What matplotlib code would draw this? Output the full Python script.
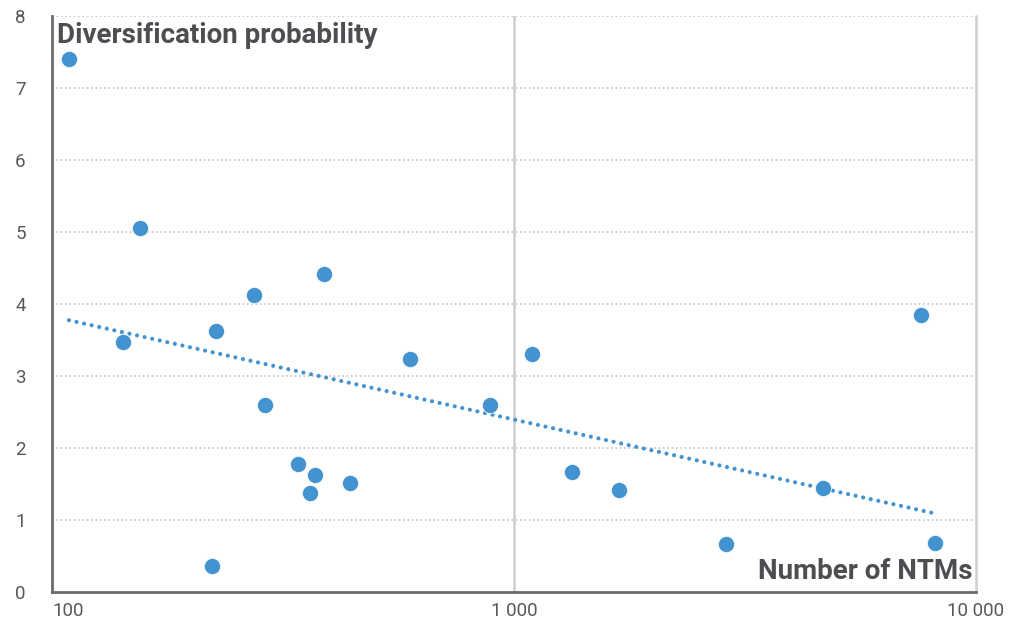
import numpy as np
import matplotlib
matplotlib.use("Agg")
import matplotlib.pyplot as plt
from matplotlib.ticker import FixedLocator, NullLocator

# number of NTMs vs. diversification probability
ntms = [108.8, 155.1, 142.3, 226.7, 222.5, 273.1, 288.4, 388.6, 340.1, 370.8, 361.7,
        441.7, 595.8, 888.0, 1093, 1334.6, 1684, 2873, 4668, 7601, 8165]
divers = [7.40, 5.06, 3.47, 3.62, 0.36, 4.12, 2.60, 4.41, 1.78, 1.62, 1.38,
          1.51, 3.23, 2.60, 3.30, 1.66, 1.41, 0.66, 1.44, 3.85, 0.68]

x_ticks = [100, 1000, 10000]
x_ticklabels = ["100", "1 000", "10 000"]
y_ticks = [0, 1, 2, 3, 4, 5, 6, 7, 8]

blue = "#4493d1"
dark = "#4d4e52"
tick_col = "#58585b"
fonts = ["Roboto", "DejaVu Sans"]

fig = plt.figure(figsize=(10.13, 6.25), dpi=100)
ax = fig.add_axes([52 / 1013, 1 - 592 / 625, (976 - 52) / 1013, (592 - 16) / 625])

ax.set_xscale("log")
ax.set_xlim(100, 10000)
ax.set_ylim(0, 8)

# log trendline (least squares on log x)
lx = np.log10(ntms)
slope, icpt = np.polyfit(lx, divers, 1)
xs = np.array([min(ntms), max(ntms)])
ax.plot(xs, slope * np.log10(xs) + icpt, color=blue, lw=3,
        linestyle=(0, (0.01, 1.85)), dash_capstyle="round", zorder=3)

ax.scatter(ntms, divers, s=135, color=blue, edgecolor="white", linewidth=0.5, zorder=4)

# grid
for y in y_ticks[1:]:
    ax.axhline(y, color="#c4c4c4", lw=1.2, linestyle=(0, (1, 1.6)), zorder=1)
ax.axvline(1000, color="#cfcfcf", lw=1.8, zorder=1)

ax.xaxis.set_major_locator(FixedLocator(x_ticks))
ax.xaxis.set_minor_locator(NullLocator())
ax.set_xticklabels(x_ticklabels)
ax.set_yticks(y_ticks)
ax.tick_params(axis="both", length=0, labelsize=13.5, colors=tick_col)
ax.tick_params(axis="x", pad=7)
ax.tick_params(axis="y", pad=19)
for lab in ax.get_xticklabels() + ax.get_yticklabels():
    lab.set_family(fonts)
ax.get_xticklabels()[0].set_horizontalalignment("left")

for side in ["left", "bottom"]:
    ax.spines[side].set_color("#6a6a6a")
    ax.spines[side].set_linewidth(2)
ax.spines["right"].set_color("#cfcfcf")
ax.spines["right"].set_linewidth(1.8)
ax.spines["top"].set_visible(False)

ax.text(0.005, 0.99, "Diversification probability", transform=ax.transAxes,
        ha="left", va="top", fontsize=20, fontweight="bold", color=dark,
        family=fonts, zorder=5)
ax.text(0.996, 0.012, "Number of NTMs", transform=ax.transAxes,
        ha="right", va="bottom", fontsize=20, fontweight="bold", color=dark,
        family=fonts, zorder=5)

fig.savefig("out.png", dpi=100)
